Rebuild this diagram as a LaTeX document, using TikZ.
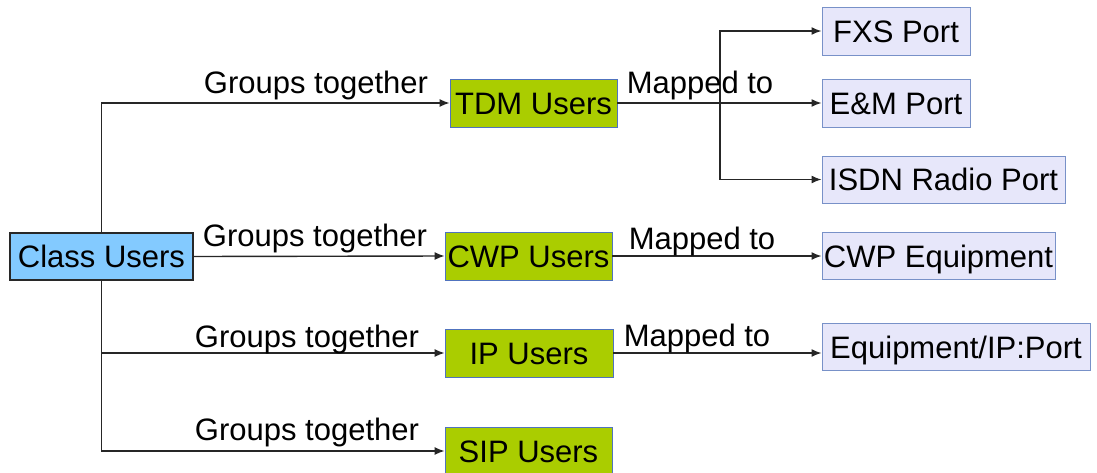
\documentclass[tikz,border=0pt]{standalone}
\usepackage{fontspec}
\setmainfont{Liberation Sans}
\usetikzlibrary{arrows.meta}
\definecolor{clsfill}{RGB}{131,202,255}
\definecolor{usrfill}{RGB}{170,205,0}
\definecolor{usrline}{RGB}{80,115,190}
\definecolor{portfill}{RGB}{231,231,250}
\definecolor{portline}{RGB}{120,145,200}
\definecolor{clsline}{RGB}{40,40,40}
\begin{document}
\begin{tikzpicture}[x=1pt,y=-1pt,
  font=\fontsize{31}{36}\selectfont,
  box/.style={inner sep=0pt, minimum height=48pt, text height=22pt, text depth=0pt},
  classbox/.style={box, draw=clsline, line width=1.1pt, fill=clsfill},
  userbox/.style={box, draw=usrline, line width=0.8pt, fill=usrfill},
  portbox/.style={box, draw=portline, line width=1pt, fill=portfill},
  link/.style={line width=1.4pt, draw=black!85},
  arrowlink/.style={link, -{Latex[length=10pt,width=8pt]}},
  lbl/.style={anchor=base, inner sep=0pt}]
\useasboundingbox (0,0) rectangle (1097,472);

% class node
\node[classbox, minimum width=183pt, minimum height=47pt] (cls) at (101.5,256.5) {Class Users};

% user groups
\node[userbox, minimum width=167pt] (tdm) at (533.5,103) {TDM Users};
\node[userbox, minimum width=167pt] (cwp) at (528.5,256) {CWP Users};
\node[userbox, minimum width=168pt] (ip)  at (529,353)   {IP Users};
\node[userbox, minimum width=167pt] (sip) at (528.5,451) {SIP Users};

% ports and equipment
\node[portbox, minimum width=148pt] (fxs)  at (896,31)    {FXS Port};
\node[portbox, minimum width=148pt] (em)   at (896,103)   {E\&M Port};
\node[portbox, minimum width=243pt, minimum height=47pt] (isdn) at (943.5,179.5) {ISDN Radio Port};
\node[portbox, minimum width=233pt, minimum height=47pt] (cwpe) at (938.5,256)   {CWP Equipment};
\node[portbox, minimum width=268pt, minimum height=47pt] (eip)  at (956,347)     {Equipment/IP:Port};

% grouping connectors
\draw[arrowlink] (cls.north) |- (tdm.west);
\draw[arrowlink] (cls.east) -- (cwp.west);
\draw[arrowlink] (cls.south) |- (ip.west);
\draw[arrowlink] (cls.south) |- (sip.west);

% mapping connectors
\coordinate (jn) at (720,103);
\draw[link] (tdm.east) -- (jn);
\draw[arrowlink] (jn) |- (fxs.west);
\draw[arrowlink] (jn) -- (em.west);
\draw[arrowlink] (jn) |- (isdn.west);
\draw[arrowlink] (cwp.east) -- (cwpe.west);
\draw[arrowlink] (ip.east) -- (ip.east -| eip.west);

% labels
\node[lbl] (g1) at (316,93)  {Groups together};
\node[lbl] (g2) at (315,246) {Groups together};
\node[lbl] (g3) at (307,347) {Groups together};
\node[lbl] (g4) at (307,440) {Groups together};
\node[lbl] (m1) at (700,93)  {Mapped to};
\node[lbl] (m2) at (702,249) {Mapped to};
\node[lbl] (m3) at (697,346) {Mapped to};
\end{tikzpicture}
\end{document}
